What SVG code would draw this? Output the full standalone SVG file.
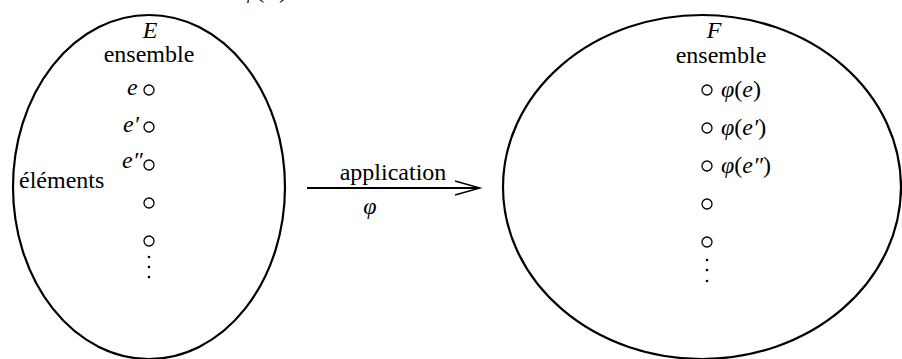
<svg xmlns="http://www.w3.org/2000/svg" width="902" height="359" viewBox="0 0 902 359">
<style>
  .set { fill: none; stroke: #000; stroke-width: 2.2; }
  .pt { fill: none; stroke: #000; stroke-width: 1.3; }
  .dot { fill: #000; }
  .t { font-family: "Liberation Serif", "Times New Roman", serif; font-size: 24px; fill: #000; }
  .m { font-family: "Liberation Serif", "Times New Roman", serif; font-size: 24px; font-style: italic; fill: #000; }
  .up { font-style: normal; }
  .mid { text-anchor: middle; }
</style>
<rect width="902" height="359" fill="#fff"/>
<text class="m mid" x="265" y="-2">φ<tspan class="up">(</tspan>E<tspan class="up">)</tspan></text>
<g id="setE">
  <ellipse class="set" cx="149" cy="187" rx="136" ry="172"/>
  <text class="m mid" x="150" y="38">E</text>
  <text class="t mid" x="149" y="62">ensemble</text>
  <text class="t" x="19" y="188">éléments</text>
  <text class="m" x="127" y="95">e</text>
  <text class="m" x="123" y="132">e′</text>
  <text class="m" x="122" y="168">e″</text>
  <circle class="pt" cx="149" cy="90" r="5"/>
  <circle class="pt" cx="149" cy="127" r="5"/>
  <circle class="pt" cx="149" cy="165" r="5"/>
  <circle class="pt" cx="149" cy="203" r="5"/>
  <circle class="pt" cx="149" cy="241" r="5"/>
  <circle class="dot" cx="149" cy="257" r="1.3"/>
  <circle class="dot" cx="149" cy="267" r="1.3"/>
  <circle class="dot" cx="149" cy="277" r="1.3"/>
</g>
<g id="setF">
  <ellipse class="set" cx="702" cy="187" rx="199" ry="172"/>
  <text class="m mid" x="714" y="38">F</text>
  <text class="t mid" x="721" y="63">ensemble</text>
  <circle class="pt" cx="707" cy="90" r="5"/>
  <circle class="pt" cx="707" cy="128" r="5"/>
  <circle class="pt" cx="707" cy="166" r="5"/>
  <circle class="pt" cx="707" cy="204" r="5"/>
  <circle class="pt" cx="707" cy="242" r="5"/>
  <circle class="dot" cx="707" cy="260" r="1.3"/>
  <circle class="dot" cx="707" cy="270" r="1.3"/>
  <circle class="dot" cx="707" cy="281" r="1.3"/>
  <text class="m" x="721" y="97">φ<tspan class="up">(</tspan>e<tspan class="up">)</tspan></text>
  <text class="m" x="721" y="135">φ<tspan class="up">(</tspan>e′<tspan class="up">)</tspan></text>
  <text class="m" x="721" y="173">φ<tspan class="up">(</tspan>e″<tspan class="up">)</tspan></text>
</g>
<g id="connectors">
  <line x1="307" y1="188" x2="479" y2="188" stroke="#000" stroke-width="2"/>
  <polyline points="455,181 480,188 455,195" fill="none" stroke="#000" stroke-width="1.4"/>
  <text class="t mid" x="393" y="180">application</text>
  <text class="m mid" x="370" y="214">φ</text>
</g>
</svg>
